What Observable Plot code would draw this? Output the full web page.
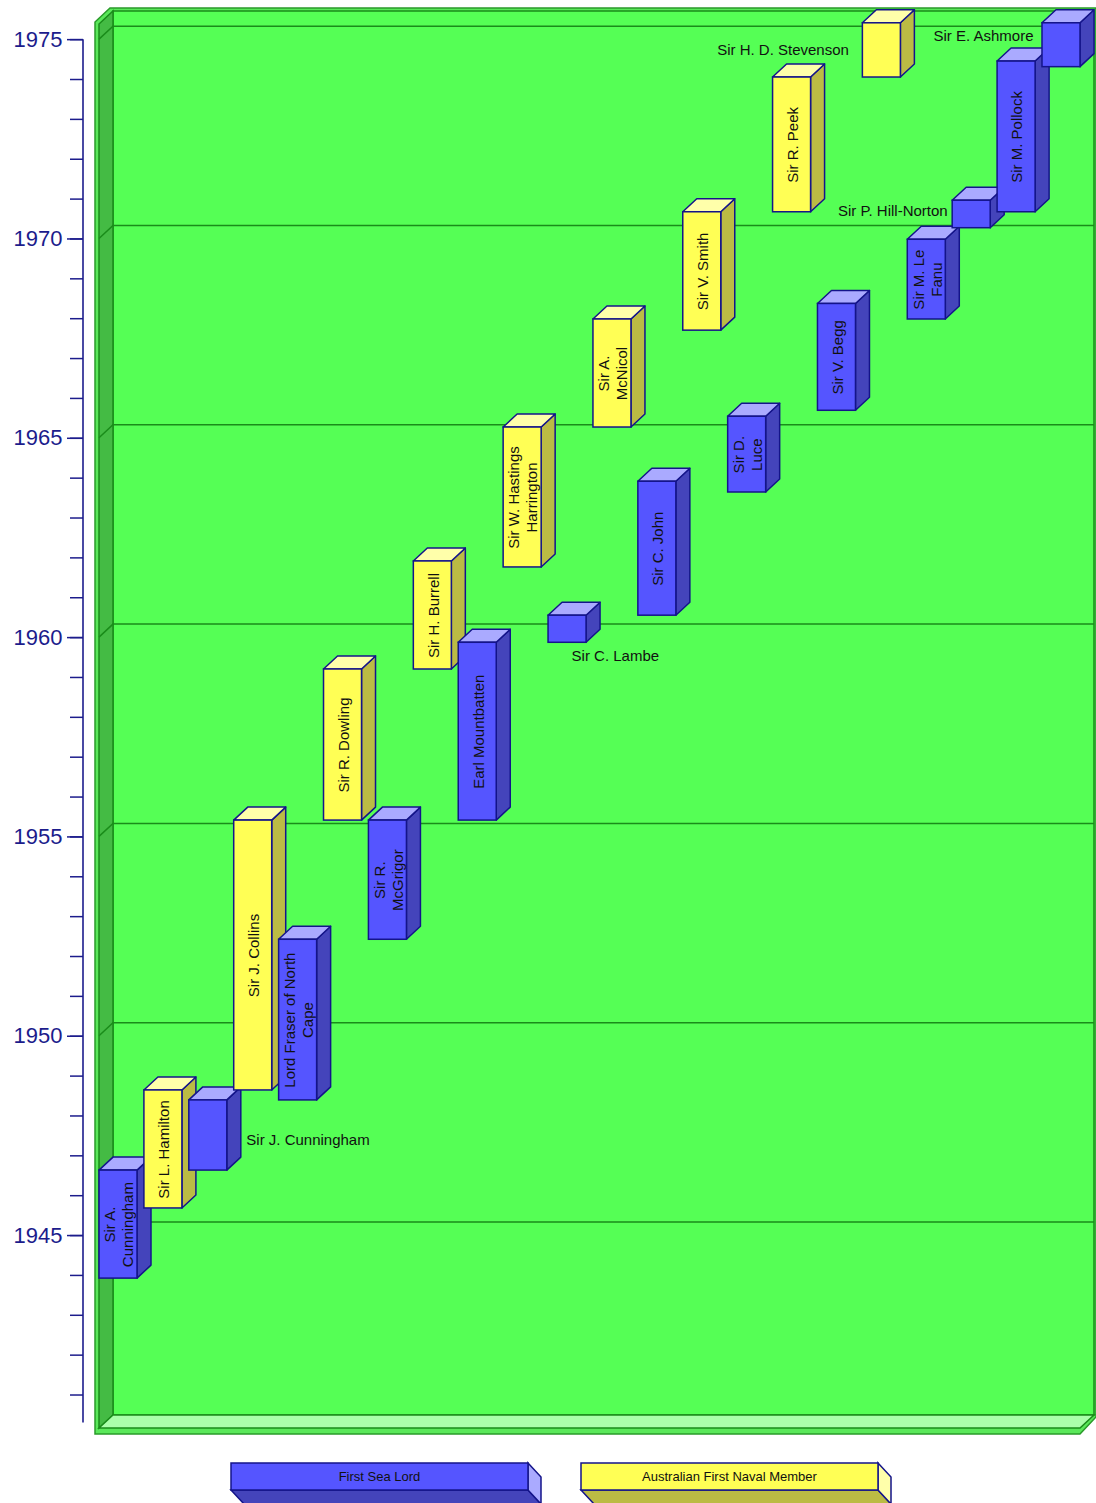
<!DOCTYPE html>
<html>
<head>
<meta charset="utf-8">
<script src="https://cdn.jsdelivr.net/npm/d3@7"></script>
<script src="https://cdn.jsdelivr.net/npm/@observablehq/plot@0.6"></script>
<style>
  html, body { margin: 0; padding: 0; background: #ffffff; overflow: hidden; }
  #chart svg, #legend svg { display: block; }
</style>
</head>
<body>
<div id="chart"></div>
<div id="legend"></div>
<script>
// ---------------- data ----------------
const names = [
  "Sir A. Cunningham", "Sir L. Hamilton", "Sir J. Cunningham", "Sir J. Collins",
  "Lord Fraser of North Cape", "Sir R. Dowling", "Sir R. McGrigor", "Sir H. Burrell",
  "Earl Mountbatten", "Sir W. Hastings Harrington", "Sir C. Lambe", "Sir A. McNicol",
  "Sir C. John", "Sir V. Smith", "Sir D. Luce", "Sir R. Peek", "Sir V. Begg",
  "Sir H. D. Stevenson", "Sir M. Le Fanu", "Sir P. Hill-Norton", "Sir M. Pollock",
  "Sir E. Ashmore"
];
const FSL = "First Sea Lord";
const AFNM = "Australian First Naval Member";
const roleNames = [FSL, AFNM];
const roles = [
  FSL, AFNM, FSL, AFNM, FSL, AFNM, FSL, AFNM, FSL, AFNM, FSL, AFNM,
  FSL, AFNM, FSL, AFNM, FSL, AFNM, FSL, FSL, FSL, FSL
];
const startYears = [
  1943.92, 1945.68, 1946.63, 1948.64, 1948.39, 1955.41, 1952.42, 1959.20,
  1955.41, 1961.76, 1959.87, 1965.27, 1960.55, 1967.70, 1963.64, 1970.67,
  1965.69, 1974.05, 1967.98, 1970.27, 1970.67, 1974.31
];
const endYears = [
  1946.63, 1948.64, 1948.39, 1955.41, 1952.42, 1959.20, 1955.41, 1961.91,
  1959.87, 1965.27, 1960.55, 1967.98, 1963.91, 1970.67, 1965.54, 1974.05,
  1968.37, 1975.41, 1969.98, 1970.96, 1974.45, 1975.41
];
const barLabels = [
  "Sir A.\nCunningham", "Sir L. Hamilton", "", "Sir J. Collins",
  "Lord Fraser of North\nCape", "Sir R. Dowling", "Sir R.\nMcGrigor", "Sir H. Burrell",
  "Earl Mountbatten", "Sir W. Hastings\nHarrington", "", "Sir A.\nMcNicol",
  "Sir C. John", "Sir V. Smith", "Sir D.\nLuce", "Sir R. Peek", "Sir V. Begg",
  "", "Sir M. Le\nFanu", "", "Sir M. Pollock", ""
];
const majorYears = [1945, 1950, 1955, 1960, 1965, 1970, 1975];
const minorYears = d3.range(1941, 1976);
const yearDomain = [1940.16, 1975.38];
const axisBottomYear = 1940.3;

// ---------------- styles / placement ----------------
const outsideLabelPlacement = {
  "Sir J. Cunningham": {anchor: "start", dx: 38, dy: 5},
  "Sir C. Lambe": {anchor: "start", dx: 4, dy: 27},
  "Sir P. Hill-Norton": {anchor: "end", dx: -24, dy: -3},
  "Sir H. D. Stevenson": {anchor: "end", dx: -33, dy: 0},
  "Sir E. Ashmore": {anchor: "end", dx: -28, dy: -9}
};
const frontColor = {[FSL]: "#5555ff", [AFNM]: "#ffff55"};
const topColor = {[FSL]: "#aaaaff", [AFNM]: "#ffffaa"};
const sideColor = {[FSL]: "#4444bb", [AFNM]: "#bbbb44"};
const edge = "#14148a";
const axisColor = "#1c1c8c";
const DX = 14, DY = 13;
const FONT = "'Liberation Sans', Arial, Helvetica, sans-serif";

const rows = names.map((name, i) => ({
  name, role: roles[i], start: startYears[i], end: endYears[i], label: barLabels[i]
}));

const poly = (pts) => "M" + pts.map(p => p.join(",")).join("L") + "Z";

// 3D box: silhouette, back wall, left wall, floor, gridlines, axis line
function box3d(index, scales, values, dimensions) {
  const {x, y} = scales;
  const [xL, xR] = x.range();
  const [yB, yT] = y.range();
  const g = d3.create("svg:g");
  g.append("path")
    .attr("d", poly([[xL - 4, yB + 6], [xL - 4, yT - 2], [xL - 4 + DX + 1, yT - DY - 3],
                     [xR + DX + 2, yT - DY - 3], [xR + DX + 2, yB - DY + 2], [xR, yB + 6]]))
    .attr("fill", "#5ae85a").attr("stroke", "#2a9a2a").attr("stroke-width", 1.5);
  g.append("path")
    .attr("d", poly([[xL + DX, yT - DY], [xR + DX, yT - DY], [xR + DX, yB - DY], [xL + DX, yB - DY]]))
    .attr("fill", "#55ff55").attr("stroke", "#1a8c1a").attr("stroke-width", 1.5);
  g.append("path")
    .attr("d", poly([[xL, yT], [xL + DX, yT - DY], [xL + DX, yB - DY], [xL, yB]]))
    .attr("fill", "#44bb44").attr("stroke", "#1a8c1a").attr("stroke-width", 1.5);
  g.append("path")
    .attr("d", poly([[xL, yB], [xL + DX, yB - DY], [xR + DX, yB - DY], [xR, yB]]))
    .attr("fill", "#aaffaa").attr("stroke", "#1a8c1a").attr("stroke-width", 1.5);
  for (const yr of majorYears) {
    const yy = y(yr);
    g.append("path")
      .attr("d", `M${xL},${yy}L${xL + DX},${yy - DY}L${xR + DX},${yy - DY}`)
      .attr("fill", "none").attr("stroke", "#1a8c1a").attr("stroke-width", 1.5);
  }
  // axis line at the frame's left edge
  g.append("line")
    .attr("x1", dimensions.marginLeft).attr("x2", dimensions.marginLeft)
    .attr("y1", y(axisBottomYear)).attr("y2", y(majorYears[majorYears.length - 1]))
    .attr("stroke", axisColor).attr("stroke-width", 1.6);
  return g.node();
}

// top and side faces of every bar, in order
function barFaces(index, scales) {
  const {x, y} = scales;
  const bw = x.bandwidth();
  const g = d3.create("svg:g").attr("stroke", edge).attr("stroke-width", 1.5).attr("stroke-linejoin", "round");
  for (const d of rows) {
    const x1 = x(d.name), x2 = x1 + bw;
    const yt = y(d.end), yb = y(d.start);
    g.append("path")
      .attr("d", poly([[x2, yt], [x2 + DX, yt - DY], [x2 + DX, yb - DY], [x2, yb]]))
      .attr("fill", sideColor[d.role]);
    g.append("path")
      .attr("d", poly([[x1, yt], [x2, yt], [x2 + DX, yt - DY], [x1 + DX, yt - DY]]))
      .attr("fill", topColor[d.role]);
  }
  return g.node();
}

const mid = d => (d.start + d.end) / 2;

const hasAxisMark = typeof Plot.axisY === "function";

const marks = [
  box3d,
  ...(hasAxisMark ? [
    Plot.axisY({ticks: minorYears, tickSize: 13, tickFormat: () => "", color: axisColor, strokeWidth: 1.5, label: null}),
    Plot.axisY({ticks: majorYears, tickSize: 16, tickPadding: 5, tickFormat: d => `${d}`,
                fontSize: 22, color: axisColor, strokeWidth: 1.5, label: null})
  ] : []),
  barFaces,
  Plot.barY(rows, {x: "name", y1: "start", y2: "end", fill: "role", stroke: edge, strokeWidth: 1.5}),
  Plot.text(rows.filter(d => d.label), {
    x: "name", y: mid, text: "label", rotate: -90, textAnchor: "middle",
    lineAnchor: "middle", lineHeight: 1.2, fontSize: 15, fill: "#111111"
  }),
  ...Object.entries(outsideLabelPlacement).map(([name, p]) =>
    Plot.text(rows.filter(d => d.name === name), {
      x: "name", y: mid, text: "name", textAnchor: p.anchor, dx: p.dx, dy: p.dy,
      fontSize: 15, fill: "#111111"
    })
  )
];

const chart = Plot.plot({
  width: 1096,
  height: 1440,
  marginLeft: 83,
  marginRight: 16,
  marginTop: 24,
  marginBottom: 12,
  style: {fontFamily: FONT, fontSize: "15px", background: "#ffffff", overflow: "visible"},
  x: {type: "band", domain: names, paddingInner: 0.1537, paddingOuter: 0, insetLeft: 16, round: false, axis: null},
  y: hasAxisMark
    ? {domain: yearDomain, axis: null}
    : {domain: yearDomain, ticks: majorYears, tickSize: 16, tickPadding: 5, tickFormat: d => `${d}`, label: null},
  color: {domain: roleNames, range: roleNames.map(r => frontColor[r])},
  marks
});
document.getElementById("chart").appendChild(chart);

// ---------------- legend (below the plot) ----------------
const legendX = [231, 581];
const legendW = 297, legendH = 27, legendTop = 23, LDX = 13, LDY = 14;
const lg = d3.select("#legend").append("svg")
  .attr("width", 1096).attr("height", 63)
  .style("font-family", FONT);
roleNames.forEach((r, i) => {
  const x0 = legendX[i], y0 = legendTop, w = legendW, h = legendH;
  const g = lg.append("g").attr("stroke", edge).attr("stroke-width", 1.5);
  g.append("path")
    .attr("d", poly([[x0, y0 + h], [x0 + w, y0 + h], [x0 + w + LDX, y0 + h + LDY], [x0 + LDX, y0 + h + LDY]]))
    .attr("fill", sideColor[r]);
  g.append("path")
    .attr("d", poly([[x0 + w, y0], [x0 + w + LDX, y0 + LDY], [x0 + w + LDX, y0 + h + LDY], [x0 + w, y0 + h]]))
    .attr("fill", topColor[r]);
  g.append("rect").attr("x", x0).attr("y", y0).attr("width", w).attr("height", h)
    .attr("fill", frontColor[r]);
  lg.append("text").attr("x", x0 + w / 2).attr("y", y0 + h / 2).attr("dy", "0.35em")
    .attr("text-anchor", "middle").attr("font-size", 13).attr("fill", "#111111").text(r);
});
</script>
</body>
</html>
